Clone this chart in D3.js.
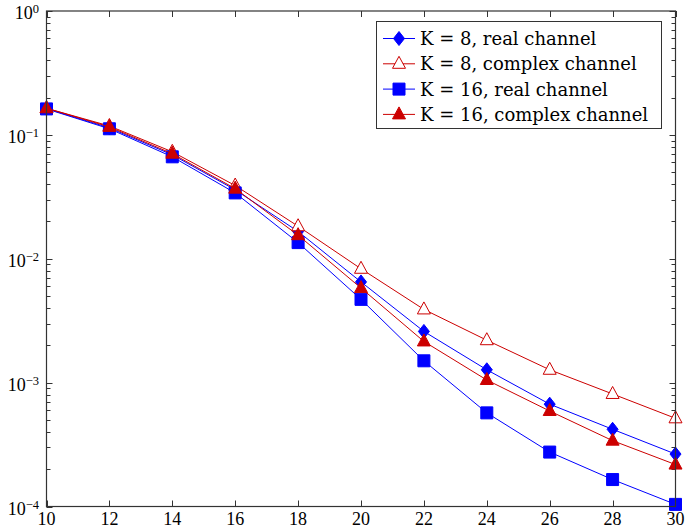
<!DOCTYPE html>
<html>
<head>
<meta charset="utf-8">
<script src="https://cdn.jsdelivr.net/npm/d3@7"></script>
<style>
  body { margin: 0; background: #fff; }
  text { font-family: "Liberation Serif", "DejaVu Serif", serif; fill: #000; }
  .legend text { font-family: "DejaVu Serif", serif; }
</style>
</head>
<body>
<svg width="685" height="531"></svg>
<script>
// data
var snr = [10, 12, 14, 16, 18, 20, 22, 24, 26, 28, 30];
var k8Real     = [0.163, 0.114, 0.0690, 0.0360, 0.0166, 0.00650, 0.00259, 0.00127, 0.000670, 0.000420, 0.000265];
var k8Complex  = [0.164, 0.118, 0.0730, 0.0390, 0.0183, 0.00830, 0.00390, 0.00220, 0.00127, 0.000810, 0.000515];
var k16Real    = [0.162, 0.112, 0.0665, 0.0340, 0.0135, 0.00470, 0.00150, 0.000570, 0.000275, 0.000165, 0.000104];
var k16Complex = [0.164, 0.116, 0.0705, 0.0368, 0.0155, 0.00580, 0.00215, 0.00105, 0.000590, 0.000340, 0.000218];
var seriesNames = ["K = 8, real channel", "K = 8, complex channel", "K = 16, real channel", "K = 16, complex channel"];
var xTicks = [10, 12, 14, 16, 18, 20, 22, 24, 26, 28, 30];
var yDecades = [0, -1, -2, -3, -4];

var blue = "#0000ff", red = "#cc0000";
var series = [
  {name: seriesNames[0], values: k8Real,     color: blue, marker: "diamond",  fill: true},
  {name: seriesNames[1], values: k8Complex,  color: red,  marker: "triangle", fill: false},
  {name: seriesNames[2], values: k16Real,    color: blue, marker: "square",   fill: true},
  {name: seriesNames[3], values: k16Complex, color: red,  marker: "triangle", fill: true}
];

var svg = d3.select("svg");
var pLeft = 46.5, pRight = 675.5, pTop = 11, pBottom = 506.5;

var x = d3.scaleLinear().domain([10, 30]).range([pLeft, pRight]);
var y = d3.scaleLog().domain([1e-4, 1]).range([pBottom, pTop]);

var axisColor = "#333";

// minor ticks for log axis
var minor = [];
for (var e = -4; e < 0; e++) {
  for (var m = 2; m <= 9; m++) minor.push(m * Math.pow(10, e));
}
var major = yDecades.map(function(d) { return Math.pow(10, d); });

var ticks = svg.append("g").attr("stroke", axisColor).attr("stroke-width", 1);

// x ticks, bottom and top, inward
xTicks.forEach(function(t) {
  var px = Math.round(x(t)) + 0.5;
  ticks.append("line").attr("x1", px).attr("x2", px).attr("y1", pBottom).attr("y2", pBottom - 6);
  ticks.append("line").attr("x1", px).attr("x2", px).attr("y1", pTop).attr("y2", pTop + 6);
});
// y ticks, left and right
major.forEach(function(v) {
  var py = Math.round(y(v)) + 0.5;
  ticks.append("line").attr("x1", pLeft).attr("x2", pLeft + 6).attr("y1", py).attr("y2", py);
  ticks.append("line").attr("x1", pRight).attr("x2", pRight - 6).attr("y1", py).attr("y2", py);
});
minor.forEach(function(v) {
  var py = Math.round(y(v)) + 0.5;
  ticks.append("line").attr("x1", pLeft).attr("x2", pLeft + 4).attr("y1", py).attr("y2", py);
  ticks.append("line").attr("x1", pRight).attr("x2", pRight - 4).attr("y1", py).attr("y2", py);
});

// x labels
svg.append("g").selectAll("text")
  .data(xTicks)
  .enter().append("text")
    .attr("x", function(d) { return x(d); })
    .attr("y", pBottom + 18.5)
    .attr("text-anchor", "middle")
    .style("font-size", "18px")
    .text(function(d) { return d; });

// y labels 10^k
var yl = svg.append("g").selectAll("text")
  .data(yDecades)
  .enter().append("text")
    .attr("x", 39)
    .attr("y", function(d) { return y(Math.pow(10, d)) + 8; })
    .attr("text-anchor", "end")
    .style("font-size", "18px");
yl.append("tspan").text("10");
yl.append("tspan")
    .attr("dy", -6)
    .style("font-size", "12.5px")
    .text(function(d) { return d === 0 ? "0" : "\u2212" + (-d); });

// lines and markers
var line = d3.line()
    .x(function(d, i) { return x(snr[i]); })
    .y(function(d) { return y(d); });

function drawMarker(g, type, cx, cy, color, fill) {
  var p;
  if (type === "diamond") {
    p = [[cx, cy - 7], [cx + 5.5, cy], [cx, cy + 7], [cx - 5.5, cy]];
  } else if (type === "square") {
    p = [[cx - 6, cy - 6], [cx + 6, cy - 6], [cx + 6, cy + 6], [cx - 6, cy + 6]];
  } else {
    p = [[cx, cy - 7.5], [cx + 6.5, cy + 4.5], [cx - 6.5, cy + 4.5]];
  }
  g.append("path")
    .attr("d", "M" + p.map(function(q) { return q.join(","); }).join("L") + "Z")
    .attr("fill", fill ? color : "#fff")
    .attr("stroke", color)
    .attr("stroke-width", 1);
}

series.forEach(function(s) {
  var g = svg.append("g");
  g.append("path")
    .datum(s.values)
    .attr("d", line)
    .attr("fill", "none")
    .attr("stroke", s.color)
    .attr("stroke-width", 1);
  s.values.forEach(function(v, i) {
    drawMarker(g, s.marker, x(snr[i]), y(v), s.color, s.fill);
  });
});

// frame
svg.append("rect")
  .attr("x", pLeft).attr("y", pTop)
  .attr("width", pRight - pLeft).attr("height", pBottom - pTop)
  .attr("fill", "none").attr("stroke", axisColor).attr("stroke-width", 1.2);

// legend
var lg = svg.append("g").attr("class", "legend");
lg.append("rect")
  .attr("x", 376.5).attr("y", 21.5).attr("width", 285).attr("height", 107)
  .attr("fill", "#fff").attr("stroke", axisColor).attr("stroke-width", 1);
series.forEach(function(s, i) {
  var cy = 38.5 + i * 25.3;
  lg.append("line")
    .attr("x1", 383).attr("x2", 415).attr("y1", cy).attr("y2", cy)
    .attr("stroke", s.color).attr("stroke-width", 1);
  drawMarker(lg, s.marker, 399, cy, s.color, s.fill);
  lg.append("text")
    .attr("x", 420).attr("y", cy + 6.5)
    .style("font-size", "18px")
    .text(s.name);
});
</script>
</body>
</html>
